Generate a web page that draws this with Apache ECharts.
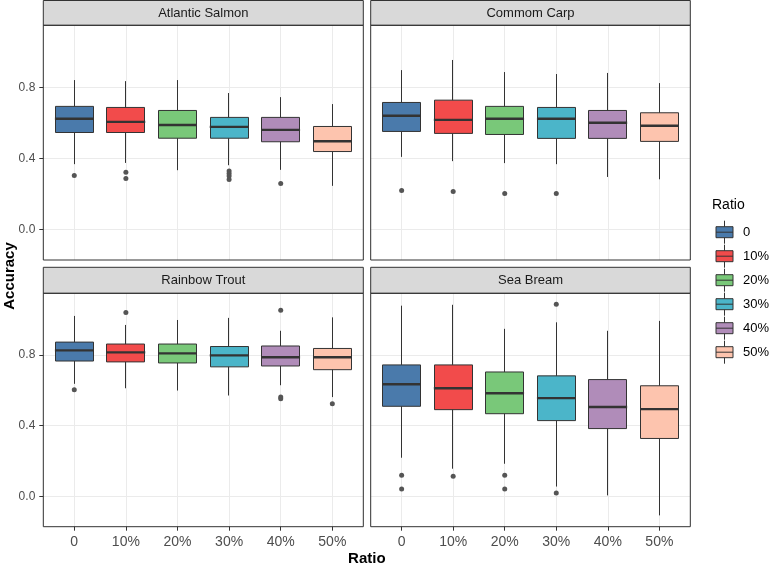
<!DOCTYPE html>
<html>
<head>
<meta charset="utf-8">
<script src="https://cdn.jsdelivr.net/npm/echarts@6/dist/echarts.min.js"></script>
<style>
html,body{margin:0;padding:0;background:#fff;}
#chart{width:769px;height:566px;}
</style>
</head>
<body>
<div id="chart"></div>
<script>
// ---------- data ----------
const ratios = ['0', '10%', '20%', '30%', '40%', '50%'];
const species = ['Atlantic Salmon', 'Commom Carp', 'Rainbow Trout', 'Sea Bream'];

// [lower whisker, Q1, median, Q3, upper whisker] per ratio
const salmonBox = [[0.368,0.546,0.623,0.693,0.841],[0.375,0.546,0.606,0.687,0.835],[0.334,0.514,0.588,0.670,0.841],[0.362,0.514,0.578,0.631,0.768],[0.336,0.494,0.561,0.631,0.745],[0.246,0.439,0.497,0.580,0.706]];
const salmonOut = [[0.304],[0.323,0.287],[],[0.330,0.315,0.302,0.282],[0.259],[]];

const carpBox = [[0.409,0.552,0.640,0.715,0.897],[0.385,0.541,0.617,0.728,0.954],[0.374,0.535,0.623,0.693,0.886],[0.368,0.513,0.623,0.687,0.875],[0.296,0.513,0.601,0.670,0.881],[0.283,0.496,0.584,0.657,0.824]];
const carpOut = [[0.220],[0.214],[0.203],[0.203],[],[]];

const troutBox = [[0.637,0.766,0.826,0.873,1.021],[0.612,0.761,0.815,0.862,0.970],[0.599,0.755,0.809,0.862,0.998],[0.571,0.733,0.798,0.848,1.010],[0.629,0.738,0.787,0.851,0.937],[0.562,0.717,0.787,0.837,1.013]];
const troutOut = [[0.603],[1.041],[],[],[1.053,0.562,0.553],[0.525]];

const breamBox = [[0.219,0.510,0.635,0.744,1.079],[0.157,0.491,0.612,0.744,1.084],[0.185,0.468,0.584,0.704,0.948],[0.056,0.429,0.556,0.682,0.985],[0.006,0.384,0.506,0.661,0.937],[-0.107,0.328,0.494,0.626,0.993]];
const breamOut = [[0.120,0.042],[0.115],[0.120,0.042],[1.087,0.019],[],[]];

const yTicks = [0, 0.4, 0.8];

// ---------- style / layout ----------
const boxes = [salmonBox, carpBox, troutBox, breamBox];
const outliers = [salmonOut, carpOut, troutOut, breamOut];
const colors = ['#4a7aab', '#f24b4b', '#79c879', '#4bb5c9', '#b08cb9', '#fdc4ae'];
const FONT = 'Liberation Sans, Arial, sans-serif';
const YMIN = -0.171, YMAX = 1.149;

const panels = [
  {left: 43.3, top: 25.3, width: 320, height: 234.7, stripTop: 0.5, stripH: 24.8, leftCol: true, bottomRow: false},
  {left: 370.7, top: 25.3, width: 319.6, height: 234.7, stripTop: 0.5, stripH: 24.8, leftCol: false, bottomRow: false},
  {left: 43.3, top: 293.3, width: 320, height: 233.4, stripTop: 267.3, stripH: 26, leftCol: true, bottomRow: true},
  {left: 370.7, top: 293.3, width: 319.6, height: 233.4, stripTop: 267.3, stripH: 26, leftCol: false, bottomRow: true}
];

const grids = [], xAxes = [], yAxes = [], series = [], graphics = [];

panels.forEach((p, i) => {
  const s = p.width / 6.2;
  // outer frame grid
  grids.push({left: p.left, top: p.top, width: p.width, height: p.height,
    show: true, borderWidth: 0, backgroundColor: '#ffffff'});
  // inner grid for categories
  grids.push({left: p.left + 0.1 * s, top: p.top, width: 6 * s, height: p.height});

  xAxes.push({type: 'value', gridIndex: 2 * i, min: 0.4, max: 6.6, minInterval: 1, maxInterval: 1,
    axisLine: {show: false}, axisTick: {show: false}, axisLabel: {show: false},
    splitLine: {show: true, lineStyle: {color: '#ebebeb', width: 1}}});
  xAxes.push({type: 'category', gridIndex: 2 * i + 1, data: ratios, position: 'bottom',
    axisLine: {show: false, onZero: false},
    axisTick: {show: p.bottomRow, alignWithLabel: true, length: 4, lineStyle: {color: '#333333'}},
    axisLabel: {show: p.bottomRow, color: '#4d4d4d', fontSize: 14, fontFamily: FONT, margin: 8},
    splitLine: {show: false}});

  yAxes.push({type: 'value', gridIndex: 2 * i, min: YMIN, max: YMAX, minInterval: 0.2, maxInterval: 0.2,
    axisLine: {show: false, onZero: false},
    axisTick: {show: p.leftCol, customValues: yTicks, length: 4, lineStyle: {color: '#333333'}},
    axisLabel: {show: p.leftCol, customValues: yTicks, color: '#4d4d4d', fontSize: 12, fontFamily: FONT, margin: 8,
      formatter: v => v.toFixed(1)},
    splitLine: {show: true, lineStyle: {color: '#ebebeb', width: 1}}});
  yAxes.push({type: 'value', gridIndex: 2 * i + 1, min: YMIN, max: YMAX, show: false});

  // boxes (body = Q1..Q3, wicks = whiskers)
  ratios.forEach((r, j) => {
    series.push({
      type: 'candlestick', name: r, xAxisIndex: 2 * i + 1, yAxisIndex: 2 * i + 1,
      barWidth: '75%', silent: true,
      itemStyle: {color: colors[j], color0: colors[j], borderColor: '#333333', borderColor0: '#333333', borderWidth: 1},
      data: ratios.map((c, k) => {
        if (k !== j) return '-';
        const b = boxes[i][k];
        return [b[1], b[3], b[0], b[4]];
      })
    });
  });
  // medians
  series.push({
    type: 'scatter', xAxisIndex: 2 * i + 1, yAxisIndex: 2 * i + 1, silent: true,
    symbol: 'rect', symbolSize: [0.75 * s, 2.4],
    itemStyle: {color: '#333333', opacity: 1},
    data: ratios.map((c, k) => [c, boxes[i][k][2]])
  });
  // outliers
  const outData = [];
  ratios.forEach((c, k) => outliers[i][k].forEach(v => outData.push([c, v])));
  series.push({
    type: 'scatter', xAxisIndex: 2 * i + 1, yAxisIndex: 2 * i + 1, silent: true,
    symbol: 'circle', symbolSize: 5,
    itemStyle: {color: '#555555', opacity: 1},
    data: outData
  });

  // panel border on top
  graphics.push({type: 'rect', shape: {x: p.left, y: p.top, width: p.width, height: p.height},
    style: {fill: null, stroke: '#333333', lineWidth: 1}, z: 100, silent: true});
  // strip
  graphics.push({type: 'rect', shape: {x: p.left, y: p.stripTop, width: p.width, height: p.stripH},
    style: {fill: '#d9d9d9', stroke: '#333333', lineWidth: 1}, z: 10});
  graphics.push({type: 'text', x: p.left + p.width / 2, y: p.stripTop + p.stripH / 2 + 0.5,
    style: {text: species[i], fill: '#1a1a1a', fontSize: 13, fontFamily: FONT, align: 'center', verticalAlign: 'middle'}, z: 11});
});

// axis titles + legend title
graphics.push({type: 'text', x: 366.8, y: 559,
  style: {text: 'Ratio', fill: '#000', fontSize: 15, fontWeight: 'bold', fontFamily: FONT, align: 'center', verticalAlign: 'middle'}});
graphics.push({type: 'text', x: 10, y: 276, rotation: Math.PI / 2,
  style: {text: 'Accuracy', fill: '#000', fontSize: 15, fontWeight: 'bold', fontFamily: FONT, align: 'center', verticalAlign: 'middle'}});
graphics.push({type: 'text', x: 712, y: 205,
  style: {text: 'Ratio', fill: '#000', fontSize: 14, fontFamily: FONT, align: 'left', verticalAlign: 'middle'}});

const keyIcon = 'path://M0,6 L17,6 L17,17 L0,17 Z M0,11.5 L17,11.5 M8.5,0 L8.5,6 M8.5,17 L8.5,23';

const option = {
  animation: false,
  backgroundColor: '#ffffff',
  grid: grids,
  xAxis: xAxes,
  yAxis: yAxes,
  series: series,
  graphic: graphics,
  legend: {
    orient: 'vertical', left: 710.5, top: 215.2, itemWidth: 17, itemHeight: 23, itemGap: 0,
    selectedMode: false,
    textStyle: {color: '#000', fontSize: 13, fontFamily: FONT, padding: [0, 0, 0, 5]},
    data: ratios.map((r, j) => ({name: r, icon: keyIcon,
      itemStyle: {color: colors[j], borderColor: '#333333', borderWidth: 1}}))
  }
};

const chart = echarts.init(document.getElementById('chart'), null, {renderer: 'canvas'});
chart.setOption(option);
</script>
</body>
</html>
